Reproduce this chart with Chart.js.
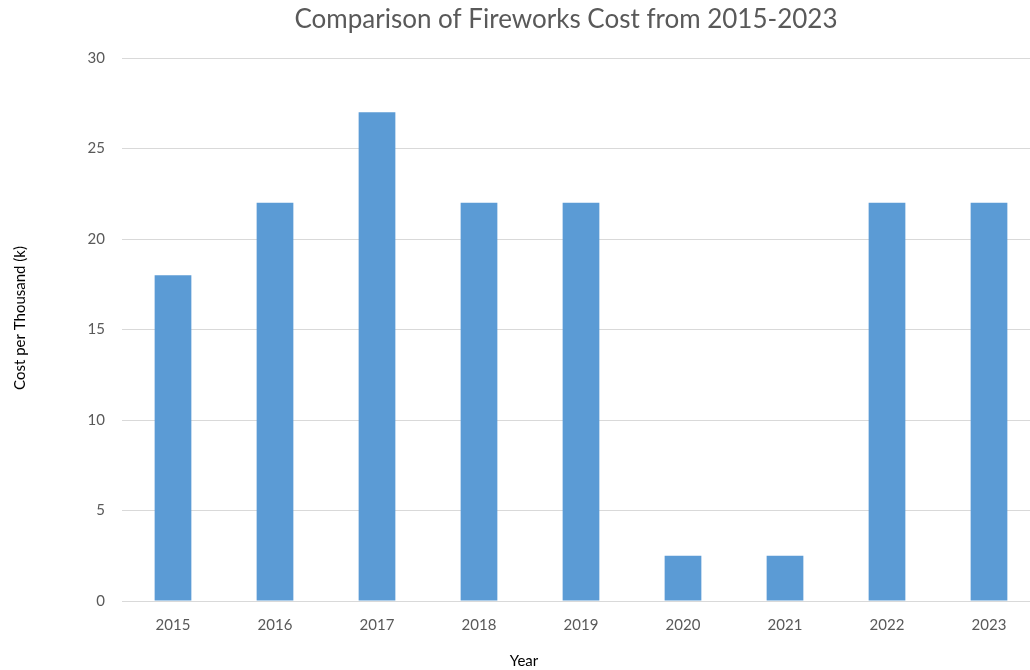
<!DOCTYPE html>
<html>
<head>
<meta charset="utf-8">
<script src="https://cdn.jsdelivr.net/npm/chart.js@4.4.0/dist/chart.umd.min.js"></script>
<style>
    html, body { margin: 0; padding: 0; background: #fff; overflow: hidden; }
    #wrap { width: 1030px; height: 670px; position: relative; overflow: hidden; }
</style>
</head>
<body>
<div id="wrap"><canvas id="costChart" width="1040" height="670"></canvas></div>
<script>
const years = ['2015', '2016', '2017', '2018', '2019', '2020', '2021', '2022', '2023'];
const costs = [18, 22, 27, 22, 22, 2.5, 2.5, 22, 22];
const yTicks = [0, 5, 10, 15, 20, 25, 30];

const chartTitle = 'Comparison of Fireworks Cost from 2015-2023';
const xTitle = 'Year';
const yTitle = 'Cost per Thousand (k)';

// Titles placed where the spreadsheet original puts them
const chartTexts = {
    id: 'chartTexts',
    afterDraw(chart) {
        const c = chart.ctx;
        c.save();
        c.textAlign = 'center';
        c.textBaseline = 'middle';

        c.font = '26px Lato';
        c.fillStyle = '#595959';
        c.fillText(chartTitle, 566, 20);

        c.font = '15px Lato';
        c.fillStyle = '#000';
        c.fillText(xTitle, 524, 661);

        c.translate(20, 318);
        c.rotate(-Math.PI / 2);
        c.fillText(yTitle, 0, 0);
        c.restore();
    }
};

const ctx = document.getElementById('costChart').getContext('2d');
new Chart(ctx, {
    type: 'bar',
    data: {
        labels: years,
        datasets: [{
            label: 'Cost',
            data: costs,
            backgroundColor: '#5b9bd5',
            borderWidth: 0,
            categoryPercentage: 1,
            barPercentage: 0.36
        }]
    },
    options: {
        responsive: false,
        animation: false,
        layout: { padding: { top: 58, right: 0, left: 0, bottom: 0 } },
        plugins: {
            legend: { display: false },
            tooltip: { enabled: false }
        },
        scales: {
            x: {
                grid: { display: false, drawTicks: false },
                border: { color: '#d9d9d9' },
                ticks: { color: '#595959', font: { family: 'Lato', size: 15 }, padding: 15 },
                afterFit(scale) { scale.height = 69; }
            },
            y: {
                min: 0,
                max: 30,
                afterBuildTicks(scale) { scale.ticks = yTicks.map(v => ({ value: v })); },
                grid: { color: '#d9d9d9', drawTicks: false },
                border: { display: false },
                ticks: { color: '#595959', font: { family: 'Lato', size: 15 }, padding: 17 },
                afterFit(scale) { scale.width = 122; }
            }
        }
    },
    plugins: [chartTexts]
});
</script>
</body>
</html>
